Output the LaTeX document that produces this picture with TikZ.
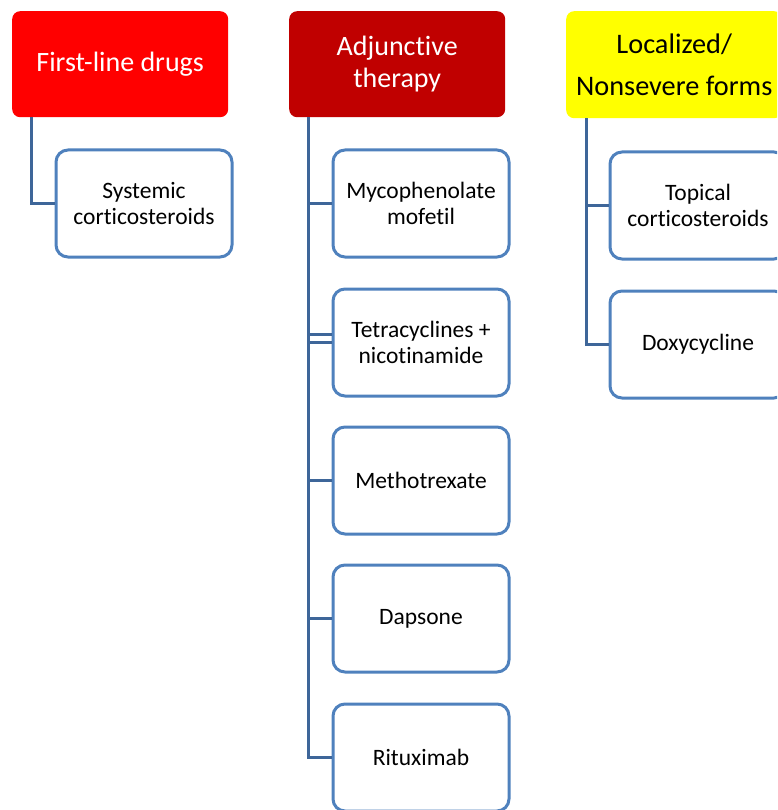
\documentclass[tikz,border=0pt]{standalone}
\usepackage{fontspec}
\setmainfont[Ligatures=NoCommon]{Carlito}
\definecolor{boxblue}{HTML}{4F81BD}
\definecolor{linkblue}{HTML}{3E6699}
\definecolor{hred}{HTML}{FF0000}
\definecolor{hdark}{HTML}{C00000}
\definecolor{hyellow}{HTML}{FFFF00}
\begin{document}
\begin{tikzpicture}[x=1pt,y=-1pt,
  head/.style={rounded corners=8pt, minimum width=216pt, minimum height=106pt, align=center,
    font=\fontsize{28}{32}\selectfont, inner sep=0pt, anchor=north west},
  child/.style={draw=boxblue, line width=3pt, rounded corners=12pt, fill=white,
    minimum width=176pt, minimum height=107pt, align=center,
    font=\fontsize{23.5}{26}\selectfont, inner sep=0pt, anchor=north west},
  link/.style={draw=linkblue, line width=3pt}]
\useasboundingbox (0,0) rectangle (777,810);
\clip (0,0) rectangle (777,810);
% headers
\node[head, fill=hred, text=white] (h1) at (12,11) {First-line drugs};
\node[head, fill=hdark, text=white] (h2) at (289,11) {Adjunctive\\therapy};
\node[head, fill=hyellow, text=black, minimum height=107pt,
  font=\fontsize{28.3}{42}\selectfont] (h3) at (566,11) {Localized/\\Nonsevere forms};
% trunk start points
\coordinate (t1) at ([xshift=19pt]h1.south west);
\coordinate (t2) at ([xshift=19pt]h2.south west);
\coordinate (t3) at ([xshift=20pt]h3.south west);
% children column 1
\node[child] (c1) at (54.5,148.5) {Systemic\\corticosteroids};
% children column 2
\node[child] (a1) at (331.5,148.5) {Mycophenolate\\mofetil};
\node[child] (a2) at (331.5,287.5) {Tetracyclines +\\nicotinamide};
\node[child] (a3) at (331.5,425.5) {Methotrexate};
\node[child] (a4) at (331.5,563.5) {Dapsone};
\node[child] (a5) at (331.5,702.5) {Rituximab};
% children column 3
\node[child] (b1) at (608.5,150.5) {Topical\\corticosteroids};
\node[child] (b2) at (608.5,289.5) {Doxycycline};
% connectors
\draw[link] (t1) |- (c1.west);
\draw[link] (t2) |- (a5.west);
\foreach \n in {a1,a2,a3,a4} \draw[link] (\n.west) -- (\n.west -| t2);
\draw[link] ([yshift=8pt]a2.west) -- ([yshift=8pt]a2.west -| t2);
\draw[link] (t3) |- (b2.west);
\draw[link] (b1.west) -- (b1.west -| t3);
\end{tikzpicture}
\end{document}
